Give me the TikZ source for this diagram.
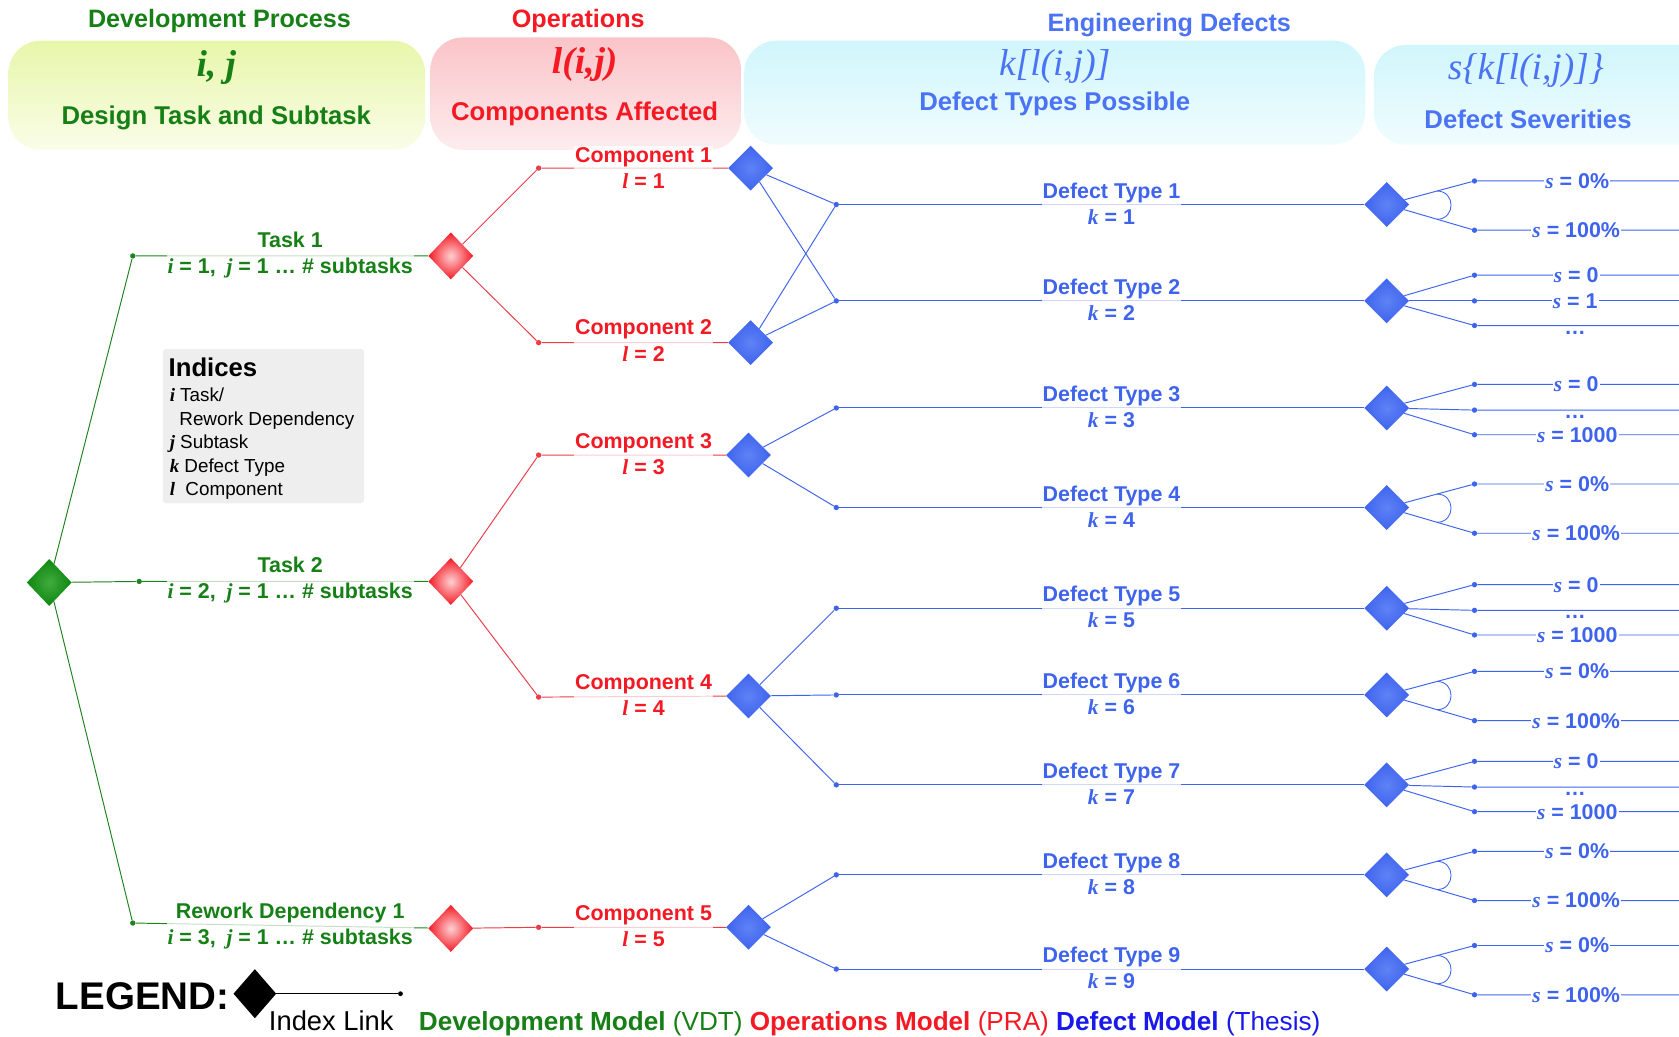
\documentclass[tikz,border=0pt]{standalone}
\usepackage{fontspec}
\setmainfont{Liberation Sans}
\newfontfamily\serifface{Liberation Serif}
\usetikzlibrary{shapes.geometric,calc}

% colours
\definecolor{devgreen}{RGB}{22,128,22}
\definecolor{glinecol}{RGB}{30,132,30}
\definecolor{gdiam}{RGB}{16,150,16}
\definecolor{opred}{RGB}{245,25,35}
\definecolor{rlinecol}{RGB}{236,60,72}
\definecolor{defblue}{RGB}{62,100,238}
\definecolor{defblueL}{RGB}{95,130,245}
\definecolor{engblue}{RGB}{75,115,245}
\definecolor{legblue}{RGB}{25,25,235}
\definecolor{hgreenT}{RGB}{232,246,170}
\definecolor{hgreenB}{RGB}{250,253,232}
\definecolor{hpinkT}{RGB}{250,196,200}
\definecolor{hpinkB}{RGB}{253,236,238}
\definecolor{hcyanT}{RGB}{208,246,252}
\definecolor{hcyanB}{RGB}{240,252,254}

% italic index letters
\newcommand{\vi}[1]{{\serifface\itshape #1}}

\begin{document}
\begin{tikzpicture}[x=1pt,y=-1pt,
  pdot/.style={circle,fill,inner sep=0pt,minimum size=5pt},
  dia/.style={diamond,inner sep=0pt,minimum width=42pt,minimum height=44pt},
  greendia/.style={dia,shading=radial,inner color=gdiam!80!white,outer color=gdiam!90!black},
  reddia/.style={dia,shading=radial,inner color=white!80!opred,outer color=opred},
  bluedia/.style={dia,minimum width=42pt,minimum height=42pt,shading=radial,inner color=defblueL,outer color=defblue},
  gline/.style={draw=glinecol,line width=0.9pt},
  rline/.style={draw=rlinecol,line width=0.9pt},
  bline/.style={draw=defblue,line width=0.9pt},
  lbl/.style={align=center,fill=white,fill opacity=0.75,text opacity=1,inner sep=1pt,
    font=\fontsize{20}{24.5}\selectfont\bfseries},
  slbl/.style={fill=white,inner sep=1pt,text=defblue,font=\fontsize{20}{24}\selectfont\bfseries},
  htitle/.style={font=\fontsize{23.5}{28}\selectfont\bfseries},
  hsub/.style={font=\fontsize{24}{28}\selectfont\bfseries},
  hmath/.style={font=\fontsize{35}{40}\selectfont\serifface\itshape},
  idx/.style={anchor=base west,font=\fontsize{17.6}{20}\selectfont}
]
\useasboundingbox (0,0) rectangle (1568,968);
\fill[white] (0,0) rectangle (1568,968);

% ---------- column headers ----------
\shade[rounded corners=30pt,top color=hgreenT,bottom color=hgreenB] (8,38) rectangle (397,140);
\shade[rounded corners=30pt,top color=hpinkT,bottom color=hpinkB] (402,35) rectangle (692,140);
\shade[rounded corners=30pt,top color=hcyanT,bottom color=hcyanB] (695,38) rectangle (1275,135);
\shade[rounded corners=30pt,top color=hcyanT,bottom color=hcyanB] (1283,42) rectangle (1610,135);

\node[htitle,text=devgreen] (hdev) at (205,20) {Development Process};
\node[htitle,text=opred] (hops) at (540,20) {Operations};
\node[htitle,text=engblue] (heng) at (1092,23) {Engineering Defects};

\node[hmath,text=devgreen,font=\fontsize{35}{40}\selectfont\serifface\bfseries\itshape] (mij) at (202,63) {i, j};
\node[hsub,text=devgreen] (sij) at (202,110) {Design Task and Subtask};
\node[hmath,text=opred,font=\fontsize{35}{40}\selectfont\serifface\bfseries\itshape] (ml) at (546,60) {l(i,j)};
\node[hsub,text=opred] (sl) at (546,106) {Components Affected};
\node[hmath,text=engblue] (mk) at (985,62) {k[l(i,j)]};
\node[hsub,text=engblue] (sk) at (985,97) {Defect Types Possible};
\node[hmath,text=engblue] (ms) at (1425,66) {s\{k[l(i,j)]\}};
\node[hsub,text=engblue] (ss) at (1427,111) {Defect Severities};

% ---------- indices box ----------
\fill[gray!13,rounded corners=3pt] (152,326) rectangle (340,470);
\node[anchor=base west,font=\fontsize{24}{28}\selectfont\bfseries] (indt) at (154,352) {Indices};
\node[idx] (ind1) at (155,375) {{\bfseries\vi{i}} Task/};
\node[idx] (ind2) at (164,397) {Rework Dependency};
\node[idx] (ind3) at (155,419) {{\bfseries\vi{j}} Subtask};
\node[idx] (ind4) at (155,441) {{\bfseries\vi{k}} Defect Type};
\node[idx] (ind5) at (155,463) {{\bfseries\vi{l}}\ \ Component};

% ---------- development model ----------
\node[greendia] (g0) at (46,544) {};
\node[pdot,glinecol] (td1) at (124,239) {};
\node[pdot,glinecol] (td2) at (130,543) {};
\node[pdot,glinecol] (td3) at (124,862) {};

% ---------- operations model ----------
\node[reddia] (r1) at (421,239) {};
\node[reddia] (r2) at (421,543) {};
\node[reddia] (r3) at (421,867) {};
\node[pdot,rlinecol] (cd1) at (503,157) {};
\node[pdot,rlinecol] (cd2) at (503,320) {};
\node[pdot,rlinecol] (cd3) at (503,425) {};
\node[pdot,rlinecol] (cd4) at (503,651) {};
\node[pdot,rlinecol] (cd5) at (503,866) {};
\node[bluedia] (b1) at (701,157) {};
\node[bluedia] (b2) at (701,320) {};
\node[bluedia] (b3) at (699,425) {};
\node[bluedia] (b4) at (699,650) {};
\node[bluedia] (b5) at (699,866) {};

\draw[gline] (g0) -- (td1) -- (r1);
\draw[gline] (g0) -- (td2) -- (r2);
\draw[gline] (g0) -- (td3) -- (r3);

\draw[rline] (r1) -- (cd1) -- (b1);
\draw[rline] (r1) -- (cd2) -- (b2);
\draw[rline] (r2) -- (cd3) -- (b3);
\draw[rline] (r2) -- (cd4) -- (b4);
\draw[rline] (r3) -- (cd5) -- (b5);

% ---------- defect types ----------
\foreach \n/\y in {1/191,2/281,3/381,4/474,5/568,6/649,7/733,8/817,9/905}{
  \node[pdot,defblue] (dd\n) at (781,\y) {};
  \node[bluedia] (sd\n) at (1295,\y) {};
  \draw[bline] (dd\n) -- (sd\n);
  \node[lbl,text=defblue] (dl\n) at (1038,\y-1) {Defect Type \n\\\vi{k} = \n};
}

\draw[bline] (b1) -- (dd1);
\draw[bline] (b1) -- (dd2);
\draw[bline] (b2) -- (dd1);
\draw[bline] (b2) -- (dd2);
\draw[bline] (b3) -- (dd3);
\draw[bline] (b3) -- (dd4);
\draw[bline] (b4) -- (dd5);
\draw[bline] (b4) -- (dd6);
\draw[bline] (b4) -- (dd7);
\draw[bline] (b5) -- (dd8);
\draw[bline] (b5) -- (dd9);

% ---------- severities: two outcomes, 0% / 100% ----------
\foreach \n in {1,4,6,8,9}{
  \node[pdot,defblue] (sa\n) at ($(sd\n)+(82,-22)$) {};
  \node[pdot,defblue] (sb\n) at ($(sd\n)+(82,24)$) {};
  \coordinate (ea\n) at ($(sa\n)+(200,0)$);
  \coordinate (eb\n) at ($(sb\n)+(200,0)$);
  \draw[bline] (sd\n) -- (sa\n) -- (ea\n);
  \draw[bline] (sd\n) -- (sb\n) -- (eb\n);
  \draw[defblue,line width=0.8pt] ($(sd\n)!0.573!(sa\n)$) .. controls +(17.5,0) and +(17.5,0) .. ($(sd\n)!0.573!(sb\n)$);
  \node[slbl] (la\n) at ($(sa\n)+(96,0)$) {\vi{s} = 0\%};
  \node[slbl] (lb\n) at ($(sb\n)+(95,0)$) {\vi{s} = 100\%};
}

% ---------- severities: counted, s = 0, 1, ... ----------
\foreach \n in {2}{
  \node[pdot,defblue] (sa\n) at ($(sd\n)+(82,-24)$) {};
  \node[pdot,defblue] (sm\n) at ($(sd\n)+(82,0)$) {};
  \node[pdot,defblue] (sb\n) at ($(sd\n)+(82,23)$) {};
  \coordinate (ea\n) at ($(sa\n)+(200,0)$);
  \coordinate (em\n) at ($(sm\n)+(200,0)$);
  \coordinate (eb\n) at ($(sb\n)+(200,0)$);
  \draw[bline] (sd\n) -- (sa\n) -- (ea\n);
  \draw[bline] (sd\n) -- (sm\n) -- (em\n);
  \draw[bline] (sd\n) -- (sb\n) -- (eb\n);
  \node[slbl] (la\n) at ($(sa\n)+(95,0)$) {\vi{s} = 0};
  \node[slbl] (lm\n) at ($(sm\n)+(94,0)$) {\vi{s} = 1};
  \node[anchor=base,text=defblue,font=\fontsize{20}{24}\selectfont\bfseries] (lb\n) at ($(sb\n)+(94,8)$) {…};
}

% ---------- severities: range, s = 0 ... 1000 ----------
\foreach \n in {3,5,7}{
  \node[pdot,defblue] (sa\n) at ($(sd\n)+(82,-22)$) {};
  \node[pdot,defblue] (sm\n) at ($(sd\n)+(82,2)$) {};
  \node[pdot,defblue] (sb\n) at ($(sd\n)+(82,25)$) {};
  \coordinate (ea\n) at ($(sa\n)+(200,0)$);
  \coordinate (em\n) at ($(sm\n)+(200,0)$);
  \coordinate (eb\n) at ($(sb\n)+(200,0)$);
  \draw[bline] (sd\n) -- (sa\n) -- (ea\n);
  \draw[bline] (sd\n) -- (sm\n) -- (em\n);
  \draw[bline] (sd\n) -- (sb\n) -- (eb\n);
  \node[slbl] (la\n) at ($(sa\n)+(95,0)$) {\vi{s} = 0};
  \node[anchor=base,text=defblue,font=\fontsize{20}{24}\selectfont\bfseries] (lm\n) at ($(sm\n)+(94,8)$) {…};
  \node[slbl] (lb\n) at ($(sb\n)+(96,0)$) {\vi{s} = 1000};
}

% ---------- task and component labels ----------
\node[lbl,text=devgreen] (tl1) at (271,238) {Task 1\\\vi{i} = 1,\enspace\vi{j} = 1 … \# subtasks};
\node[lbl,text=devgreen] (tl2) at (271,542) {Task 2\\\vi{i} = 2,\enspace\vi{j} = 1 … \# subtasks};
\node[lbl,text=devgreen] (tl3) at (271,865) {Rework Dependency 1\\\vi{i} = 3,\enspace\vi{j} = 1 … \# subtasks};

\node[lbl,text=opred] (cl1) at (601,157) {Component 1\\\vi{l} = 1};
\node[lbl,text=opred] (cl2) at (601,318) {Component 2\\\vi{l} = 2};
\node[lbl,text=opred] (cl3) at (601,424) {Component 3\\\vi{l} = 3};
\node[lbl,text=opred] (cl4) at (601,649) {Component 4\\\vi{l} = 4};
\node[lbl,text=opred] (cl5) at (601,865) {Component 5\\\vi{l} = 5};

% ---------- legend ----------
\node[anchor=base west,font=\fontsize{36}{40}\selectfont\bfseries,inner sep=0pt] (leg) at (52,943) {LEGEND:};
\node[dia,fill=black,minimum width=40pt,minimum height=46pt] (lgd) at (238,928) {};
\node[pdot,black,minimum size=4.5pt] (lgdot) at (374,928) {};
\draw[black,line width=1.2pt] (lgd) -- (lgdot);
\node[anchor=base west,font=\fontsize{25.5}{28}\selectfont,inner sep=0pt] (lgix) at (251,962) {Index Link};
\node[anchor=base west,font=\fontsize{24.4}{28}\selectfont,inner sep=0pt] (lgtx) at (391,962)
  {\textcolor{devgreen}{\bfseries Development Model} \textcolor{devgreen}{(VDT)} \textcolor{opred}{\bfseries Operations Model} \textcolor{opred}{(PRA)} \textcolor{legblue}{\bfseries Defect Model} \textcolor{legblue}{(Thesis)}};
\end{tikzpicture}
\end{document}
